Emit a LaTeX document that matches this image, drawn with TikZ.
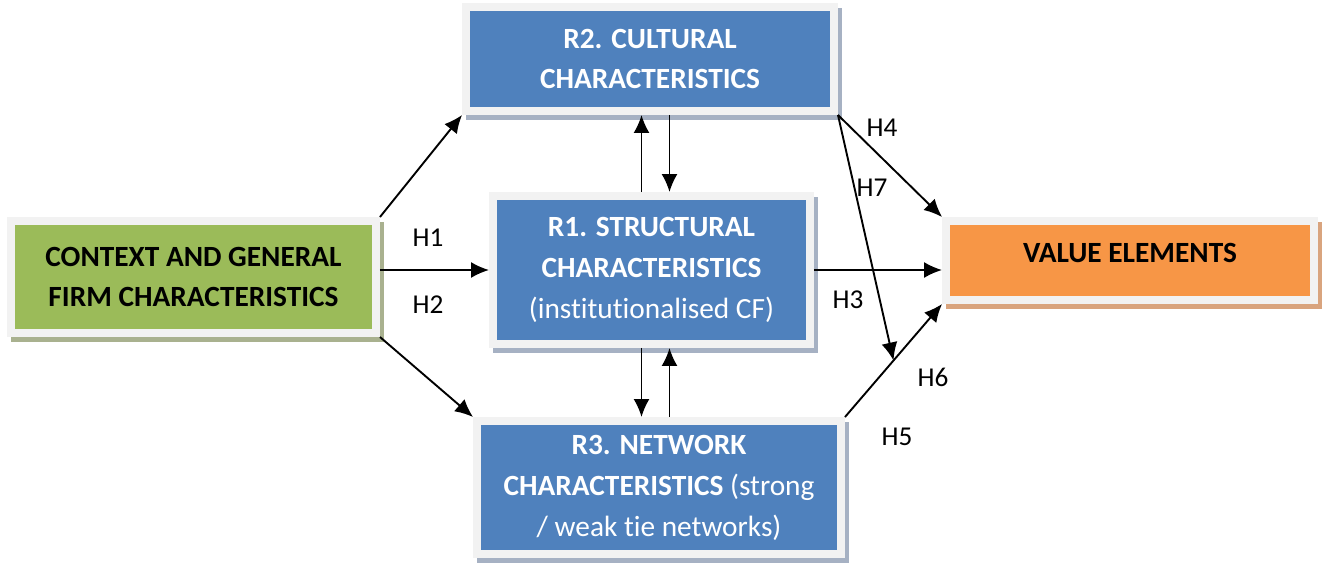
\documentclass[tikz,border=0pt]{standalone}
\usepackage{fontspec}
\setmainfont{Carlito}[Ligatures={NoCommon}]
\usetikzlibrary{positioning,arrows.meta,calc,shadows}

\definecolor{ctxgreen}{HTML}{9BBB59}
\definecolor{rblue}{HTML}{4F81BD}
\definecolor{valorange}{HTML}{F79646}
\definecolor{rim}{HTML}{F2F2F2}
\definecolor{ctxshade}{HTML}{A9B18F}
\definecolor{rshade}{HTML}{A6B1C3}
\definecolor{valshade}{HTML}{D9A47E}

\begin{document}
\begin{tikzpicture}[
    x=0.02cm, y=-0.02cm,
    line width=0.038cm,
    link/.style={-{Latex[length=0.36cm,width=0.32cm]}},
    box/.style={draw=rim, line width=0.16cm, inner sep=0pt, align=center,
      font=\fontsize{16.7}{23.3}\selectfont\bfseries},
    shade/.style={drop shadow={shadow xshift=0.08cm, shadow yshift=-0.1cm,
      opacity=1, fill=#1, draw=#1, line width=0.16cm}},
    ctxbox/.style={box, fill=ctxgreen, shade=ctxshade},
    rbox/.style={box, fill=rblue, text=white, shade=rshade},
    valbox/.style={box, fill=valorange, shade=valshade},
    hlab/.style={font=\fontsize{15.5}{18}\selectfont},
  ]
    \useasboundingbox (0,0) rectangle (1327,565);

    \node[ctxbox, minimum width=7.30cm, minimum height=2.24cm] (ctx) at (193.5,277)
      {CONTEXT AND GENERAL\\FIRM CHARACTERISTICS};
    \node[rbox, minimum width=7.36cm, minimum height=2.08cm] (r2) at (650,59)
      {R2. CULTURAL\\CHARACTERISTICS};
    \node[rbox, minimum width=6.34cm, minimum height=2.96cm] (r1) at (651.5,270)
      {R1. STRUCTURAL\\CHARACTERISTICS\\{\mdseries(institutionalised CF)}};
    \node[rbox, minimum width=7.28cm, minimum height=2.66cm] (r3) at (659,487.5)
      {R3. NETWORK\\CHARACTERISTICS {\mdseries(strong}\\{\mdseries/ weak tie networks)}};
    \node[valbox, minimum width=7.36cm, minimum height=1.58cm, text depth=0.32cm] (val) at (1130,260.5)
      {VALUE ELEMENTS};

    % context to the three R blocks
    \draw[link] (ctx.north east) -- (r2.south west);
    \draw[link] (ctx.east |- r1.west) -- (r1.west);
    \draw[link] (ctx.south east) -- (r3.north west);

    % R1 <-> R2, R1 <-> R3
    \draw[link] ([xshift=-0.2cm]r1.north) -- ([xshift=-0.2cm]r1.north |- r2.south);
    \draw[link] ([xshift=0.36cm]r1.north |- r2.south) -- ([xshift=0.36cm]r1.north);
    \draw[link] ([xshift=-0.2cm]r1.south) -- ([xshift=-0.2cm]r1.south |- r3.north);
    \draw[link] ([xshift=0.36cm]r1.south |- r3.north) -- ([xshift=0.36cm]r1.south);

    % towards value elements
    \coordinate (mid) at ($(r3.north east)!0.5!(val.south west)$);
    \draw[link] (r1.east) -- (r1.east -| val.west);
    \draw[link] (r2.south east) -- (val.north west);
    \draw[link] (r2.south east) -- (mid);
    \draw[link] (r3.north east) -- (val.south west);

    \node[hlab] (h1) at (428,238) {H1};
    \node[hlab] (h2) at (428,305) {H2};
    \node[hlab] (h3) at (848,300) {H3};
    \node[hlab] (h4) at (882,128) {H4};
    \node[hlab] (h7) at (872,188) {H7};
    \node[hlab] (h6) at (933,377) {H6};
    \node[hlab] (h5) at (897,437) {H5};
  \end{tikzpicture}
\end{document}
